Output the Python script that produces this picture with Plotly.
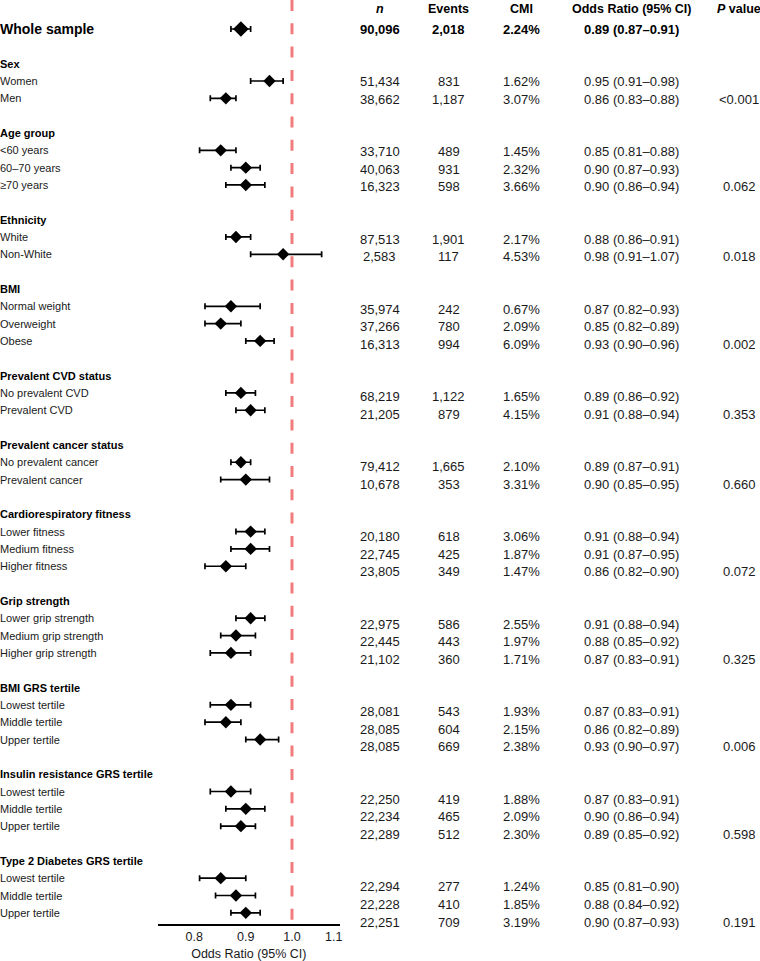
import math
import plotly.graph_objects as go

# ---------------- data ----------------
whole_label = "Whole sample"
whole_n = 90096
whole_events = 2018
whole_cmi = 2.24
whole_or = 0.89
whole_lo = 0.87
whole_hi = 0.91

groups = ["Sex", "Age group", "Ethnicity", "BMI", "Prevalent CVD status",
          "Prevalent cancer status", "Cardiorespiratory fitness", "Grip strength",
          "BMI GRS tertile", "Insulin resistance GRS tertile", "Type 2 Diabetes GRS tertile"]

subgroups = [
    ["Women", "Men"],
    ["<60 years", "60–70 years", "≥70 years"],
    ["White", "Non-White"],
    ["Normal weight", "Overweight", "Obese"],
    ["No prevalent CVD", "Prevalent CVD"],
    ["No prevalent cancer", "Prevalent cancer"],
    ["Lower fitness", "Medium fitness", "Higher fitness"],
    ["Lower grip strength", "Medium grip strength", "Higher grip strength"],
    ["Lowest tertile", "Middle tertile", "Upper tertile"],
    ["Lowest tertile", "Middle tertile", "Upper tertile"],
    ["Lowest tertile", "Middle tertile", "Upper tertile"],
]

n_vals = [
    [51434, 38662],
    [33710, 40063, 16323],
    [87513, 2583],
    [35974, 37266, 16313],
    [68219, 21205],
    [79412, 10678],
    [20180, 22745, 23805],
    [22975, 22445, 21102],
    [28081, 28085, 28085],
    [22250, 22234, 22289],
    [22294, 22228, 22251],
]

events = [
    [831, 1187],
    [489, 931, 598],
    [1901, 117],
    [242, 780, 994],
    [1122, 879],
    [1665, 353],
    [618, 425, 349],
    [586, 443, 360],
    [543, 604, 669],
    [419, 465, 512],
    [277, 410, 709],
]

cmi = [
    [1.62, 3.07],
    [1.45, 2.32, 3.66],
    [2.17, 4.53],
    [0.67, 2.09, 6.09],
    [1.65, 4.15],
    [2.10, 3.31],
    [3.06, 1.87, 1.47],
    [2.55, 1.97, 1.71],
    [1.93, 2.15, 2.38],
    [1.88, 2.09, 2.30],
    [1.24, 1.85, 3.19],
]

odds = [
    [0.95, 0.86],
    [0.85, 0.90, 0.90],
    [0.88, 0.98],
    [0.87, 0.85, 0.93],
    [0.89, 0.91],
    [0.89, 0.90],
    [0.91, 0.91, 0.86],
    [0.91, 0.88, 0.87],
    [0.87, 0.86, 0.93],
    [0.87, 0.90, 0.89],
    [0.85, 0.88, 0.90],
]

ci_low = [
    [0.91, 0.83],
    [0.81, 0.87, 0.86],
    [0.86, 0.91],
    [0.82, 0.82, 0.90],
    [0.86, 0.88],
    [0.87, 0.85],
    [0.88, 0.87, 0.82],
    [0.88, 0.85, 0.83],
    [0.83, 0.82, 0.90],
    [0.83, 0.86, 0.85],
    [0.81, 0.84, 0.87],
]

ci_high = [
    [0.98, 0.88],
    [0.88, 0.93, 0.94],
    [0.91, 1.07],
    [0.93, 0.89, 0.96],
    [0.92, 0.94],
    [0.91, 0.95],
    [0.94, 0.95, 0.90],
    [0.94, 0.92, 0.91],
    [0.91, 0.89, 0.97],
    [0.91, 0.94, 0.92],
    [0.90, 0.92, 0.93],
]

p_values = ["<0.001", "0.062", "0.018", "0.002", "0.353", "0.660",
            "0.072", "0.325", "0.006", "0.598", "0.191"]

x_ticks = [0.8, 0.9, 1.0, 1.1]
x_tick_labels = ["0.8", "0.9", "1.0", "1.1"]
col_headers = ["<b><i>n</i></b>", "<b>Events</b>", "<b>CMI</b>",
               "<b>Odds Ratio (95% CI)</b>", "<b><i>P</i> value</b>"]

# ---------------- layout constants ----------------
W, H = 760, 961
FONT = "Liberation Sans, Arial, sans-serif"
TXT = "#1a1a1a"
AX_BOTTOM_PX = 924
ROW0_PX = 29
ROWH = 17.33      # forest row height
ROWH_T = 17.51    # table row height
col_x = [381, 450, 523, 633, 741]
label_x = -2 / W

# row index assignment
heading_rows = []
item_rows = []
r = 0
for g, subs in zip(groups, subgroups):
    r += 2
    heading_rows.append(r)
    rows = []
    for _ in subs:
        r += 1
        rows.append(r)
    item_rows.append(rows)

y_range = [(AX_BOTTOM_PX - ROW0_PX) / ROWH, -ROW0_PX / ROWH]
y2_range = [(AX_BOTTOM_PX - ROW0_PX) / ROWH_T, -ROW0_PX / ROWH_T]
header_row_t = (9 - ROW0_PX) / ROWH_T

flat_x, flat_y, flat_plus, flat_minus = [], [], [], []
for gi in range(len(groups)):
    for j in range(len(subgroups[gi])):
        o = odds[gi][j]
        flat_x.append(o)
        flat_y.append(item_rows[gi][j])
        flat_plus.append(ci_high[gi][j] - o)
        flat_minus.append(o - ci_low[gi][j])

fig = go.Figure()
fig.add_trace(go.Scatter(
    x=flat_x, y=flat_y, mode="markers",
    marker=dict(symbol="diamond", size=9.5, color="black"),
    error_x=dict(type="data", symmetric=False, array=flat_plus, arrayminus=flat_minus,
                 color="black", thickness=1.7, width=3),
    showlegend=False, hoverinfo="skip"))
fig.add_trace(go.Scatter(
    x=[whole_or], y=[0], mode="markers",
    marker=dict(symbol="diamond", size=12, color="black"),
    error_x=dict(type="data", symmetric=False, array=[whole_hi - whole_or],
                 arrayminus=[whole_or - whole_lo], color="black", thickness=1.7, width=3),
    showlegend=False, hoverinfo="skip"))

ann = []
# left labels
ann.append(dict(text="<b>" + whole_label + "</b>", x=label_x, y=0, xref="paper", yref="y",
                xanchor="left", yanchor="middle", showarrow=False,
                font=dict(size=14, color="black", family=FONT)))
for gi, g in enumerate(groups):
    ann.append(dict(text="<b>" + g + "</b>", x=label_x, y=heading_rows[gi], xref="paper",
                    yref="y", xanchor="left", yanchor="middle", showarrow=False,
                    font=dict(size=11, color="black", family=FONT)))
    for j, s in enumerate(subgroups[gi]):
        ann.append(dict(text=s, x=label_x, y=item_rows[gi][j], xref="paper", yref="y",
                        xanchor="left", yanchor="middle", showarrow=False,
                        font=dict(size=11, color=TXT, family=FONT)))

# table header
for cx, h in zip(col_x, col_headers):
    ann.append(dict(text=h, x=cx / W, y=header_row_t, xref="paper", yref="y2",
                    xanchor="center", yanchor="middle", showarrow=False,
                    font=dict(size=12.5, color="black", family=FONT)))


def row_cells(nv, ev, cm, o, lo, hi):
    return [f"{nv:,}", f"{ev:,}", f"{cm:.2f}%", f"{o:.2f} ({lo:.2f}–{hi:.2f})"]


for cx, t in zip(col_x, row_cells(whole_n, whole_events, whole_cmi, whole_or, whole_lo, whole_hi)):
    ann.append(dict(text="<b>" + t + "</b>", x=cx / W, y=0, xref="paper", yref="y2",
                    xanchor="center", yanchor="middle", showarrow=False,
                    font=dict(size=13, color="black", family=FONT)))

for gi in range(len(groups)):
    for j in range(len(subgroups[gi])):
        cells = row_cells(n_vals[gi][j], events[gi][j], cmi[gi][j], odds[gi][j],
                          ci_low[gi][j], ci_high[gi][j])
        for cx, t in zip(col_x, cells):
            ann.append(dict(text=t, x=cx / W, y=item_rows[gi][j], xref="paper", yref="y2",
                            xanchor="center", yanchor="middle", showarrow=False,
                            font=dict(size=13, color=TXT, family=FONT)))
    ann.append(dict(text=p_values[gi], x=col_x[4] / W, y=item_rows[gi][-1], xref="paper",
                    yref="y2", xanchor="center", yanchor="middle", showarrow=False,
                    font=dict(size=13, color=TXT, family=FONT)))

fig.update_layout(
    width=W, height=H,
    margin=dict(l=0, r=0, t=0, b=0),
    paper_bgcolor="white", plot_bgcolor="white",
    font=dict(family=FONT, color=TXT),
    annotations=ann,
    xaxis=dict(type="log", range=[math.log10(0.736), math.log10(1.116)],
               domain=[158 / W, 341 / W], anchor="y",
               tickvals=x_ticks, ticktext=x_tick_labels,
               showline=True, linecolor="black", linewidth=1.5,
               ticks="", showgrid=False, zeroline=False,
               tickfont=dict(size=12.5, color=TXT, family=FONT),
               title=dict(text="Odds Ratio (95% CI)", standoff=8,
                          font=dict(size=12.5, color=TXT, family=FONT))),
    yaxis=dict(domain=[(H - AX_BOTTOM_PX) / H, 1], range=y_range,
               visible=False, showgrid=False, zeroline=False),
    yaxis2=dict(overlaying="y", range=y2_range, visible=False,
                showgrid=False, zeroline=False),
    shapes=[dict(type="line", xref="x", yref="y domain", x0=1.0, x1=1.0, y0=1, y1=0,
                 line=dict(color="#F27B7D", width=3, dash="11px,12.3px"), layer="below")],
)

fig.write_html("out.html",
               config={"displayModeBar": False},
               post_script="document.body.style.margin='0px';document.body.style.overflow='hidden';")
